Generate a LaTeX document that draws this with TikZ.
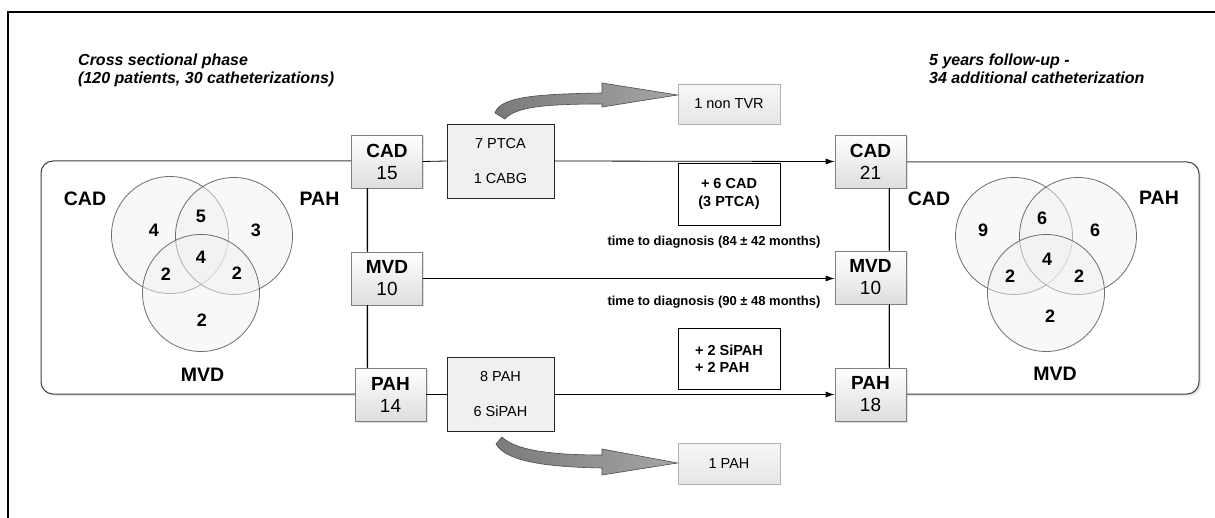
\documentclass[tikz,border=0pt]{standalone}
\usepackage{fontspec}
\setmainfont{Liberation Sans}
\usetikzlibrary{arrows.meta,shadows,calc}
\begin{document}
\begin{tikzpicture}[x=1pt,y=-1pt]
\tikzset{
  frameline/.style={line width=2pt, line cap=rect},
  panel/.style={draw=black!75, line width=1pt, rounded corners=12pt, fill=white, inner sep=0pt,
    drop shadow={opacity=0.2, shadow xshift=2pt, shadow yshift=-2pt}},
  grpbox/.style={draw=black!50, line width=0.8pt, top color=white, bottom color=black!13,
    minimum width=71pt, minimum height=53pt, inner sep=0pt, align=center,
    font=\fontsize{19}{22}\selectfont,
    drop shadow={opacity=0.25, shadow xshift=1.5pt, shadow yshift=-1.5pt}},
  treatbox/.style={draw=black!85, line width=0.8pt, fill=black!6, minimum width=107pt,
    minimum height=74pt, inner sep=0pt, align=center, font=\fontsize{14.5}{35}\selectfont},
  outbox/.style={draw=black!30, line width=0.8pt, top color=black!3, bottom color=black!10,
    minimum width=102pt, minimum height=40pt, inner sep=0pt, font=\fontsize{14.5}{17}\selectfont},
  newbox/.style={draw=black, line width=0.8pt, fill=white, minimum width=102pt,
    minimum height=62pt, inner sep=0pt, font=\bfseries\fontsize{14.5}{17.5}\selectfont},
  conn/.style={line width=0.8pt, black},
  flow/.style={conn, -{Latex[length=9pt,width=6pt]}},
  timelbl/.style={font=\bfseries\fontsize{13}{15}\selectfont, anchor=base, inner sep=0pt},
  titletext/.style={font=\bfseries\itshape\fontsize{16}{18}\selectfont, align=left,
    anchor=north west, inner sep=0pt},
  venn/.style={circle, draw=black!70, line width=0.8pt, fill=black!5, fill opacity=0.5,
    draw opacity=0.8, minimum size=117pt, inner sep=0pt},
  vlabel/.style={font=\bfseries\fontsize{19.5}{22}\selectfont, inner sep=0pt},
  vnum/.style={font=\bfseries\fontsize{18}{20}\selectfont, inner sep=0pt},
  blockarrow/.style={draw=black!70, line width=0.6pt, left color=black!52, right color=black!35},
}
\useasboundingbox (0,0) rectangle (1215,518);
\fill[white] (0,0) rectangle (1215,518);
% outer frame
\draw[frameline] (8,518) -- (8,12) -- (1215,12);

% titles
\node[titletext] (titleL) at (78,53.5) {Cross sectional phase\\(120 patients, 30 catheterizations)};
\node[titletext] (titleR) at (929,53.5) {5 years follow-up -\\34 additional catheterization};

% panels
\node[panel, minimum width=326pt, minimum height=233pt] (leftpanel) at (204,277.5) {};
\node[panel, minimum width=310pt, minimum height=232pt] (rightpanel) at (1044,278) {};

% left Venn
\node[venn] (vcadL) at (170,235) {};
\node[venn] (vpahL) at (234,236) {};
\node[venn] (vmvdL) at (201,293) {};
\node[vlabel] (lcadL) at (85,199) {CAD};
\node[vlabel] (lpahL) at (319.5,199) {PAH};
\node[vlabel] (lmvdL) at (202.5,375) {MVD};
\node[vnum] (nL1) at (154,230) {4};
\node[vnum] (nL2) at (201,216) {5};
\node[vnum] (nL3) at (256,230) {3};
\node[vnum] (nL4) at (201,257) {4};
\node[vnum] (nL5) at (166,274) {2};
\node[vnum] (nL6) at (237,273) {2};
\node[vnum] (nL7) at (202,320) {2};

% right Venn
\node[venn] (vcadR) at (1014,236) {};
\node[venn] (vpahR) at (1078,236) {};
\node[venn] (vmvdR) at (1046,293) {};
\node[vlabel] (lcadR) at (929,199) {CAD};
\node[vlabel] (lpahR) at (1159,198) {PAH};
\node[vlabel] (lmvdR) at (1055,374) {MVD};
\node[vnum] (nR1) at (983,230) {9};
\node[vnum] (nR2) at (1042,218) {6};
\node[vnum] (nR3) at (1095,230) {6};
\node[vnum] (nR4) at (1047,259) {4};
\node[vnum] (nR5) at (1010,276) {2};
\node[vnum] (nR6) at (1079,276) {2};
\node[vnum] (nR7) at (1050,316) {2};

% group boxes
\node[grpbox] (cad15) at (387,161.5) {\textbf{CAD}\\15};
\node[grpbox] (mvd10) at (387,278.5) {\textbf{MVD}\\10};
\node[grpbox] (pah14) at (390.5,394.5) {\textbf{PAH}\\14};
\node[grpbox] (cad21) at (870.5,161.5) {\textbf{CAD}\\21};
\node[grpbox] (mvd10r) at (870.5,277.5) {\textbf{MVD}\\10};
\node[grpbox] (pah18) at (870.5,394.5) {\textbf{PAH}\\18};

% treatment boxes
\node[treatbox] (ptca) at (500.5,161) {7 PTCA\\1 CABG};
\node[treatbox] (sipah) at (500.5,394.5) {8 PAH\\6 SiPAH};

% outcome boxes
\node[outbox] (nontvr) at (729,104) {1 non TVR};
\node[outbox, minimum height=41pt] (onepah) at (729,463.5) {1 PAH};

% new diagnosis boxes
\node[newbox, align=center] (newcad) at (729,194) {+ 6 CAD\\(3 PTCA)};
\node[newbox, minimum height=61pt, align=left] (newpah) at (729,358.5) {+ 2 SiPAH\\+ 2 PAH};

% time labels
\node[timelbl] (timeA) at (714,245.5) {time to diagnosis (84 ± 42 months)};
\node[timelbl] (timeB) at (714,305.5) {time to diagnosis (90 ± 48 months)};

% connectors
\coordinate (vL) at (367,0);
\coordinate (vR) at (889,0);
\draw[conn] (cad15.south -| vL) -- (mvd10.north -| vL);
\draw[conn] (mvd10.south -| vL) -- (pah14.north -| vL);
\draw[conn] (cad21.south -| vR) -- (mvd10r.north -| vR);
\draw[conn] (mvd10r.south -| vR) -- (pah18.north -| vR);
\draw[conn] (cad15.east) -- (ptca.west);
\draw[flow] (ptca.east) -- (cad21.west);
\draw[flow] (mvd10.east) -- (mvd10r.west |- mvd10.east);
\draw[conn] (pah14.east) -- (sipah.west);
\draw[flow] (sipah.east) -- (pah18.west);

% block arrows
\path[blockarrow] (495,113) .. controls (500,97) and (535,94) .. (602,93)
  -- (602,83) -- (nontvr.west |- 0,95) -- (602,107) -- (602,104)
  .. controls (545,104) and (515,107) .. (505,119) -- cycle;
\path[blockarrow] (502,437) .. controls (515,450) and (550,455) .. (602,455)
  -- (602,449) -- (onepah.west |- 0,463) -- (602,475) -- (602,468)
  .. controls (540,467) and (505,460) .. (496,444) -- cycle;
\end{tikzpicture}
\end{document}
